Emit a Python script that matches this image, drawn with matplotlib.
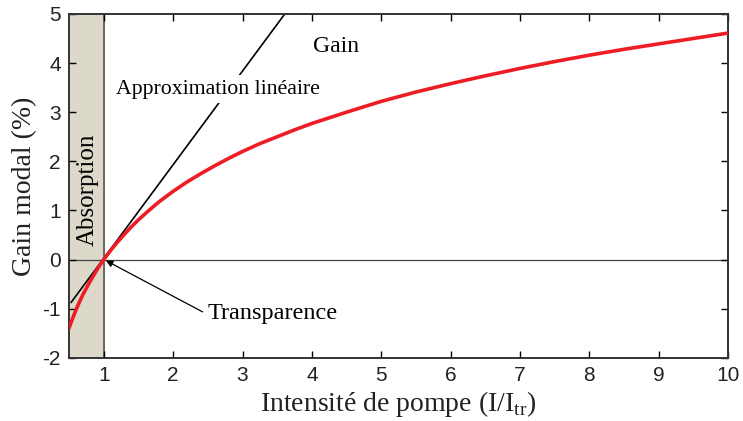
import numpy as np
import matplotlib.pyplot as plt

plt.rcParams["mathtext.fontset"] = "custom"
plt.rcParams["mathtext.rm"] = "Liberation Serif"
plt.rcParams["axes.unicode_minus"] = False

# gain curve
pump = [0.5, 0.55, 0.6, 0.65, 0.7, 0.75, 0.8, 0.85, 0.9, 0.95, 1.0, 1.1, 1.2,
        1.3, 1.4, 1.5, 1.65, 1.8, 2.0, 2.2, 2.4, 2.6, 2.8, 3.0, 3.25, 3.5,
        3.75, 4.0, 4.5, 5.0, 5.5, 6.0, 6.5, 7.0, 7.5, 8.0, 8.5, 9.0, 9.5, 10.0]
gain = [-1.39, -1.2, -1.02, -0.86, -0.71, -0.58, -0.45, -0.33, -0.21, -0.10,
        0.0, 0.19, 0.36, 0.52, 0.67, 0.81, 1.0, 1.18, 1.39, 1.58, 1.75, 1.91,
        2.06, 2.2, 2.36, 2.5, 2.64, 2.77, 3.0, 3.22, 3.41, 3.58, 3.74, 3.89,
        4.03, 4.16, 4.28, 4.39, 4.5, 4.61]

# linear approximation end points
lin_x = [0.53, 3.61]
lin_y = [-0.87, 5.0]

xticks = [1, 2, 3, 4, 5, 6, 7, 8, 9, 10]
yticks = [-2, -1, 0, 1, 2, 3, 4, 5]

serif = "Liberation Serif"
sans = "Liberation Sans"

fig = plt.figure(figsize=(7.43, 4.21), dpi=100)
ax = fig.add_axes([0.093, 0.15, 0.887, 0.817])

ax.axvspan(0.5, 1.0, color="#dcd9cb", zorder=0)
ax.axvline(1.0, color="#555555", lw=1.2, zorder=1)
ax.axhline(0.0, color="#444444", lw=0.9, zorder=1)

ax.plot(lin_x, lin_y, color="black", lw=1.2, zorder=2)
ax.plot(pump, gain, color="#ee1c24", lw=2.6, zorder=3)

ax.text(0.765, 1.42, "Absorption", rotation=90, ha="center", va="center",
        family=serif, fontsize=18, zorder=4)
ax.text(1.18, 3.47, "Approximation linéaire", ha="left", va="center",
        family=serif, fontsize=15.7, zorder=4,
        bbox=dict(facecolor="white", edgecolor="none", pad=3))
ax.text(4.02, 4.33, "Gain", ha="left", va="center", family=serif,
        fontsize=17, zorder=4)
ax.annotate("Transparence", xy=(1.03, -0.02), xytext=(2.5, -1.1),
            ha="left", va="center", family=serif, fontsize=17.5, zorder=4,
            arrowprops=dict(arrowstyle="-|>", color="black", lw=0.9,
                            mutation_scale=10, shrinkB=0,
                            relpos=(0, 0.45)))

ax.set_xlim(0.5, 10)
ax.set_ylim(-2, 5)
ax.set_xticks(xticks)
ax.set_yticks(yticks)
ax.tick_params(direction="in", top=True, right=True, length=5, width=1,
               labelsize=15, labelcolor="#222222", pad=6)
for lab in ax.get_xticklabels() + ax.get_yticklabels():
    lab.set_family(sans)
for s in ax.spines.values():
    s.set_linewidth(1.4)
    s.set_color("#333333")

ax.set_xlabel(r"Intensité de pompe (I/I$_{\mathrm{tr}}$)", family=serif,
              fontsize=20, labelpad=3, color="#222222")
ax.set_ylabel("Gain modal (%)", family=serif, fontsize=20, labelpad=4,
              color="#222222")

fig.savefig("out.png", dpi=100)
